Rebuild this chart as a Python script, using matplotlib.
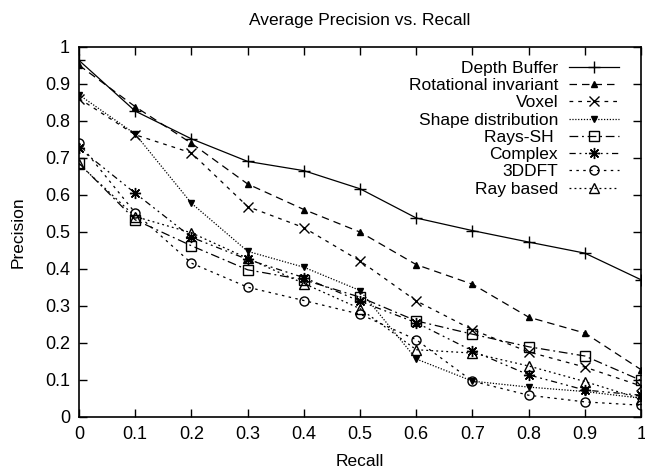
import matplotlib
matplotlib.use("Agg")
import matplotlib.pyplot as plt

plt.rcParams['font.family'] = ['Liberation Sans', 'DejaVu Sans']

recall = [0, 0.1, 0.2, 0.3, 0.4, 0.5, 0.6, 0.7, 0.8, 0.9, 1.0]

depth_buffer = [0.963, 0.826, 0.751, 0.690, 0.665, 0.616, 0.537, 0.503, 0.472, 0.442, 0.370]
rotational = [0.950, 0.838, 0.739, 0.629, 0.560, 0.499, 0.411, 0.358, 0.269, 0.226, 0.127]
voxel = [0.860, 0.762, 0.713, 0.568, 0.511, 0.421, 0.313, 0.235, 0.175, 0.134, 0.083]
shape_dist = [0.870, 0.764, 0.577, 0.447, 0.404, 0.341, 0.156, 0.096, 0.080, 0.068, 0.050]
rays_sh = [0.685, 0.532, 0.462, 0.397, 0.370, 0.323, 0.259, 0.223, 0.189, 0.164, 0.098]
complex_ = [0.726, 0.604, 0.485, 0.425, 0.376, 0.312, 0.254, 0.178, 0.113, 0.072, 0.058]
dft3d = [0.739, 0.551, 0.415, 0.350, 0.314, 0.277, 0.208, 0.096, 0.058, 0.040, 0.031]
ray_based = [0.683, 0.541, 0.497, 0.428, 0.360, 0.292, 0.181, 0.172, 0.137, 0.095, 0.048]

labels = ["Depth Buffer", "Rotational invariant", "Voxel", "Shape distribution",
          "Rays-SH ", "Complex", "3DDFT", "Ray based"]

fig = plt.figure(figsize=(6.45, 4.71), dpi=100)
ax = fig.add_axes([0.1225, 0.1153, 0.8715, 0.7855])

lw = 0.9
ax.plot(recall, depth_buffer, color="k", lw=lw, ls="-", marker="+", ms=8, mew=1.0, label=labels[0])
ax.plot(recall, rotational, color="k", lw=lw, ls=(0, (6, 4)), marker="^", ms=5, label=labels[1])
ax.plot(recall, voxel, color="k", lw=lw, ls=(0, (3, 4)), marker="x", ms=7, mew=1.0, label=labels[2])
ax.plot(recall, shape_dist, color="k", lw=lw, ls=(0, (1, 1.3)), marker="v", ms=5, label=labels[3])
ax.plot(recall, rays_sh, color="k", lw=lw, ls=(0, (7, 3, 1.5, 3)), marker="s", ms=6.5, mfc="none", mew=1.0, label=labels[4])
ax.plot(recall, complex_, color="k", lw=lw, ls=(0, (5, 3, 1.5, 3, 1.5, 3)), marker=(8, 2, 0), ms=8, mew=1.0, label=labels[5])
ax.plot(recall, dft3d, color="k", lw=lw, ls=(0, (2, 3.5)), marker="o", ms=6.5, mfc="none", mew=1.0, label=labels[6])
ax.plot(recall, ray_based, color="k", lw=lw, ls=(0, (1.5, 2.5)), marker="^", ms=6.5, mfc="none", mew=1.0, label=labels[7])

ax.set_xlim(0, 1)
ax.set_ylim(0, 1)
ax.set_xticks([0, 0.1, 0.2, 0.3, 0.4, 0.5, 0.6, 0.7, 0.8, 0.9, 1])
ax.set_xticklabels(["0", "0.1", "0.2", "0.3", "0.4", "0.5", "0.6", "0.7", "0.8", "0.9", "1"])
ax.set_yticks([0, 0.1, 0.2, 0.3, 0.4, 0.5, 0.6, 0.7, 0.8, 0.9, 1])
ax.set_yticklabels(["0", "0.1", "0.2", "0.3", "0.4", "0.5", "0.6", "0.7", "0.8", "0.9", "1"])
ax.tick_params(direction="in", length=6, width=1, top=True, right=True, labelsize=13, pad=6.5)
for s in ax.spines.values():
    s.set_linewidth(1.2)

ax.set_title("Average Precision vs. Recall", fontsize=12.5, pad=16)
ax.set_xlabel("Recall", fontsize=12.5, labelpad=8)
ax.set_ylabel("Precision", fontsize=12.5, labelpad=14)

ax.legend(loc="upper right", bbox_to_anchor=(0.979, 0.99), frameon=False, markerfirst=False,
          numpoints=1, fontsize=12.5, handlelength=2.9, handletextpad=0.6,
          labelspacing=0.12, borderaxespad=0.2)

fig.savefig("out.png", dpi=100)
